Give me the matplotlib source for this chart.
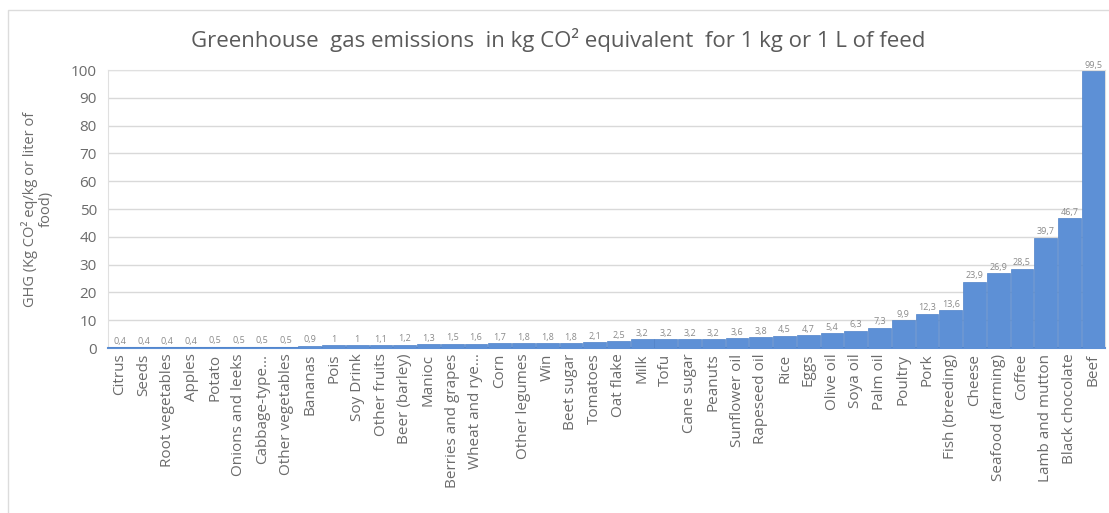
import numpy as np
import matplotlib
matplotlib.use("Agg")
import matplotlib.pyplot as plt
from matplotlib.patches import Rectangle

# food items, sorted from lowest to highest footprint
foods = [
    "Citrus", "Seeds", "Root vegetables", "Apples", "Potato",
    "Onions and leeks", "Cabbage-type...", "Other vegetables", "Bananas",
    "Pois", "Soy Drink", "Other fruits", "Beer (barley)", "Manioc",
    "Berries and grapes", "Wheat and rye...", "Corn", "Other legumes", "Win",
    "Beet sugar", "Tomatoes", "Oat flake", "Milk", "Tofu", "Cane sugar",
    "Peanuts", "Sunflower oil", "Rapeseed oil", "Rice", "Eggs", "Olive oil",
    "Soya oil", "Palm oil", "Poultry", "Pork", "Fish (breeding)", "Cheese",
    "Seafood (farming)", "Coffee", "Lamb and mutton", "Black chocolate", "Beef",
]
ghg = [
    0.4, 0.4, 0.4, 0.4, 0.5, 0.5, 0.5, 0.5, 0.9, 1, 1, 1.1, 1.2, 1.3,
    1.5, 1.6, 1.7, 1.8, 1.8, 1.8, 2.1, 2.5, 3.2, 3.2, 3.2, 3.2, 3.6, 3.8,
    4.5, 4.7, 5.4, 6.3, 7.3, 9.9, 12.3, 13.6, 23.9, 26.9, 28.5, 39.7,
    46.7, 99.5,
]
y_ticks = list(range(0, 101, 10))

TEXT = "#6b6b6b"
BAR = "#5d90d6"

plt.rcParams['font.family'] = ['Open Sans', 'DejaVu Sans']

fig = plt.figure(figsize=(11.09, 5.13), dpi=100)
ax = fig.add_axes([0.0974, 0.3216, 0.8990, 0.5419])

# outer chart frame
fig.patches.append(Rectangle((0.007, -0.01), 1.0, 0.99, transform=fig.transFigure,
                             fill=False, edgecolor="#dcdcdc", linewidth=1.0))

x = np.arange(len(foods))
ax.bar(x, ghg, width=0.96, color=BAR, edgecolor="#4f82c8", linewidth=0.5, zorder=3)

# value labels with comma decimals
for xi, v in zip(x, ghg):
    txt = ("%g" % v).replace(".", ",")
    ax.text(xi, v + 0.5, txt, ha="center", va="bottom", fontsize=6.5,
            color="#8a8a8a", zorder=4)

ax.set_xlim(-0.5, len(foods) - 0.5)
ax.set_ylim(0, 100)
ax.set_yticks(y_ticks)
ax.set_xticks(x)
ax.set_xticklabels(foods, rotation=90, fontsize=11, color=TEXT)
ax.tick_params(axis="y", labelsize=11, colors=TEXT, length=0, pad=8)
ax.tick_params(axis="x", length=0, pad=4)

ax.grid(axis="y", color="#d9d9d9", linewidth=1.0, zorder=0)
for side in ["left", "top", "right"]:
    ax.spines[side].set_color("#e0e0e0")
ax.spines["bottom"].set_color(BAR)
ax.spines["bottom"].set_linewidth(1.5)

ax.set_ylabel("GHG (Kg CO² eq/kg or liter of\nfood)", fontsize=10.5, color=TEXT,
              linespacing=1.1, labelpad=12)
fig.text(0.503, 0.922, "Greenhouse  gas emissions  in kg CO² equivalent  for 1 kg or 1 L of feed",
         ha="center", va="center", fontsize=16, color="#5a5a5a")

fig.savefig("out.png", dpi=100)
